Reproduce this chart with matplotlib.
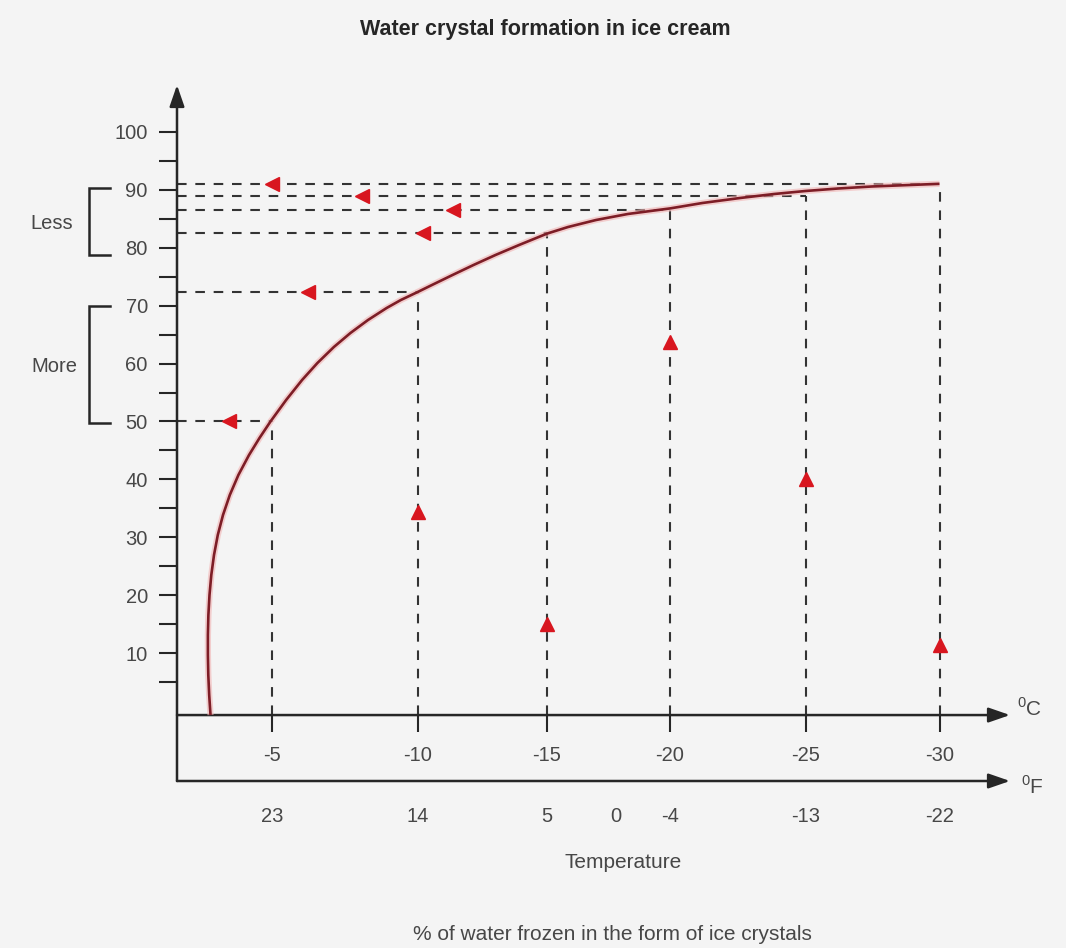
import numpy as np
import matplotlib
matplotlib.use("Agg")
import matplotlib.pyplot as plt
from matplotlib import patheffects as pe
from matplotlib import transforms as mtrans

# ---------------- data ----------------
temps_c = [-5, -10, -15, -20, -25, -30]
temps_f = [23, 14, 5, 0, -4, -13, -22]
guide_pct = [50.0, 72.4, 82.5, 86.6, 89.0, 91.1]          # % frozen at each temps_c
left_arrow_t = [-3.52, -6.24, -10.2, -11.37, -8.1, -5.0]   # arrow positions on the horizontal guides
up_arrow_t = [-10, -15, -20, -25, -30]
up_arrow_pct = [34.3, 15.0, 63.8, 40.0, 11.4]
curve_t = [-2.887, -2.842, -2.811, -2.797, -2.797, -2.814, -2.852, -2.914, -3.007,
           -3.137, -3.316, -3.550, -3.845, -4.210, -4.570, -4.948, -5.485, -6.034,
           -6.560, -7.127, -7.694, -8.299, -8.938, -9.426, -10.0, -10.560, -11.351,
           -12.162, -13.012, -13.919, -15.0, -15.854, -16.992, -18.285, -20.0,
           -21.199, -22.583, -23.838, -25.0, -26.213, -27.481, -30.0]
curve_pct = [-0.7, 2.76, 6.22, 9.67, 13.13, 16.58, 20.03, 23.49, 26.94,
             30.40, 33.85, 37.31, 40.76, 44.21, 47.15, 50.0, 53.71, 57.17,
             60.10, 62.87, 65.28, 67.53, 69.60, 70.98, 72.35, 73.58, 75.30,
             77.03, 78.76, 80.48, 82.45, 83.59, 84.80, 85.84, 86.8,
             87.74, 88.60, 89.29, 89.81, 90.24, 90.59, 91.05]
ytick_major = [10, 20, 30, 40, 50, 60, 70, 80, 90, 100]
ytick_minor = [5, 15, 25, 35, 45, 55, 65, 75, 85, 95]

# ---------------- layout helpers ----------------
W, H = 1066, 948
ZERO_PX, PX_PER = 711.0, 5.79
anch_t = np.array([-30.0, -25.0, -20.0, -15.0, -10.0, -5.0])
anch_px = np.array([939.5, 805.5, 670.0, 547.0, 417.5, 272.0])
S_LO = (anch_px[0] - anch_px[1]) / (anch_t[1] - anch_t[0])
S_HI = (anch_px[-2] - anch_px[-1]) / (anch_t[-1] - anch_t[-2])


def t2px(t):
    t = np.asarray(t, dtype=float)
    out = np.interp(t, anch_t, anch_px)
    out = np.where(t < anch_t[0], anch_px[0] + (anch_t[0] - t) * S_LO, out)
    out = np.where(t > anch_t[-1], anch_px[-1] - (t - anch_t[-1]) * S_HI, out)
    return out


def px2t(p):
    p = np.asarray(p, dtype=float)
    out = np.interp(p, anch_px[::-1], anch_t[::-1])
    out = np.where(p > anch_px[0], anch_t[0] - (p - anch_px[0]) / S_LO, out)
    out = np.where(p < anch_px[-1], anch_t[-1] + (anch_px[-1] - p) / S_HI, out)
    return out


# increasing forward function for the axis scale
def fwd(t):
    return -t2px(t)


def inv(v):
    return px2t(-np.asarray(v, dtype=float))


def ypct(py):
    return (ZERO_PX - py) / PX_PER


plt.rcParams['font.family'] = ['Liberation Sans', 'DejaVu Sans']
plt.rcParams['mathtext.fontset'] = 'custom'
plt.rcParams['mathtext.rm'] = 'Liberation Sans'

BG = '#f4f4f4'
TXT = '#474747'
AX = '#262626'
DASH = '#333333'
RED = '#d8161f'
CURVE = '#7d1d26'

fig = plt.figure(figsize=(W / 100, H / 100), dpi=100, facecolor=BG)
ax = fig.add_axes([0, 0, 1, 1])
ax.set_facecolor(BG)
ax.set_xscale('function', functions=(fwd, inv))
ax.set_xlim(float(px2t(0)), float(px2t(W)))
ax.set_ylim(ypct(H), ypct(0))

t_axis = float(px2t(177))
c_axis_y = -0.7
f_axis_y = ypct(781)
t_arrow = float(px2t(1010))

for s in ax.spines.values():
    s.set_visible(False)
ax.spines['left'].set_position(('data', t_axis))
ax.spines['bottom'].set_position(('data', c_axis_y))

# y ticks
ax.set_yticks(ytick_major)
ax.set_yticks(ytick_minor, minor=True)
ax.tick_params(axis='y', which='both', direction='out', length=13, width=1.5,
               color=AX, pad=8, labelsize=14.5, labelcolor=TXT)
# C ticks
ax.set_xticks(temps_c)
ax.set_xticklabels([str(t) for t in temps_c])
ax.xaxis.set_minor_locator(matplotlib.ticker.NullLocator())
ax.tick_params(axis='x', which='both', direction='out', length=12.5, width=1.5,
               color=AX, pad=10, labelsize=14.5, labelcolor=TXT)
ax.tick_params(top=False, right=False)

# axis lines with arrowheads
arrow_kw = dict(arrowstyle='-|>,head_length=1.3,head_width=0.45', lw=1.8,
                color=AX, shrinkA=0, shrinkB=0, mutation_scale=10)
ax.annotate('', xy=(t_axis, ypct(85)), xytext=(t_axis, f_axis_y),
            arrowprops=arrow_kw, annotation_clip=False)
ax.annotate('', xy=(t_arrow, c_axis_y), xytext=(t_axis, c_axis_y),
            arrowprops=arrow_kw, annotation_clip=False)
ax.annotate('', xy=(t_arrow, f_axis_y), xytext=(t_axis, f_axis_y),
            arrowprops=arrow_kw, annotation_clip=False)

# guide lines
dash_kw = dict(color=DASH, lw=1.5, dashes=(4.6, 4.2), zorder=2)
for t, p in zip(temps_c, guide_pct):
    ax.plot([t_axis, t], [p, p], **dash_kw)
    ax.plot([t, t], [c_axis_y, p], **dash_kw)

# curve
ax.plot(curve_t, curve_pct, color=CURVE, lw=1.9, zorder=4, solid_capstyle='butt',
        solid_joinstyle='round',
        path_effects=[pe.Stroke(linewidth=4.5, foreground='#f2b3b3', alpha=0.6), pe.Normal()])

# red arrows
ax.plot(left_arrow_t, guide_pct, ls='none', marker='<', ms=10, color=RED, mec=RED, zorder=5)
ax.plot(up_arrow_t, up_arrow_pct, ls='none', marker='^', ms=10, color=RED, mec=RED, zorder=5)

# Fahrenheit labels
f_pos = [(f - 32) * 5.0 / 9.0 for f in temps_f]
for f, x in zip(temps_f, f_pos):
    ax.text(x, ypct(816), str(f), ha='center', va='center', fontsize=14.5, color=TXT)

# unit labels
ax.text(float(px2t(1017)), ypct(709), '$^0$C', ha='left', va='center', fontsize=15, color=TXT)
ax.text(float(px2t(1021)), ypct(786), '$^0$F', ha='left', va='center', fontsize=15, color=TXT)

# brackets
bt = mtrans.blended_transform_factory(fig.transFigure, ax.transData)
for top, bot in [(ypct(188), ypct(255)), (ypct(306), ypct(423))]:
    ax.plot([110 / W, 89 / W, 89 / W, 110 / W], [top, top, bot, bot], transform=bt,
            color=AX, lw=1.8, clip_on=False, solid_joinstyle='miter')


def ftext(px, py, s, **kw):
    fig.text(px / W, 1 - py / H, s, **kw)


ftext(52, 223, 'Less', ha='center', va='center', fontsize=14.5, color=TXT)
ftext(54, 367, 'More', ha='center', va='center', fontsize=14.5, color=TXT)
ftext(545, 30, 'Water crystal formation in ice cream', ha='center', va='center',
      fontsize=15.5, fontweight='bold', color='#262626')
ftext(623, 862, 'Temperature', ha='center', va='center', fontsize=15, color=TXT)
ftext(612, 935, '% of water frozen in the form of ice crystals', ha='center', va='center',
      fontsize=15, color=TXT)

fig.savefig('out.png', dpi=100, facecolor=BG)
